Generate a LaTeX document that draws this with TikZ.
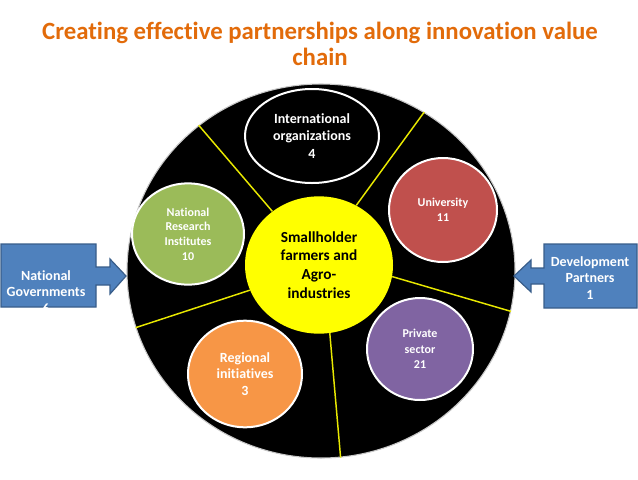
\documentclass[tikz,border=0pt]{standalone}
\usepackage{fontspec}
\setmainfont{Carlito}[Ligatures={NoCommon}]
\usetikzlibrary{shapes.geometric}
\definecolor{TitleOrange}{HTML}{E26B0A}
\definecolor{CalloutFill}{HTML}{4F81BD}
\definecolor{CalloutEdge}{HTML}{385D8A}
\definecolor{HubYellow}{HTML}{FFFF00}
\definecolor{SpokeYellow}{HTML}{E8E800}
\definecolor{UniRed}{HTML}{C0504D}
\definecolor{InstGreen}{HTML}{9BBB59}
\definecolor{PrivPurple}{HTML}{8064A2}
\definecolor{RegOrange}{HTML}{F79646}
\tikzset{
  diagram/.style={x=0.75pt,y=-0.75pt,font=\bfseries},
  ring/.style={ellipse,fill=black,draw=black!22,line width=0.8pt,inner sep=0pt},
  hub/.style={ellipse,fill=HubYellow,inner sep=0pt,align=center,
    font=\bfseries\fontsize{11.5}{14}\selectfont},
  member/.style={ellipse,draw=white,line width=1.5pt,inner sep=0pt,align=center,text=white},
  spoke/.style={draw=SpokeYellow,line width=1.1pt},
  callout/.style={fill=CalloutFill,draw=CalloutEdge,line width=0.9pt},
  callouttext/.style={text=white,align=center,font=\bfseries\fontsize{10.5}{12.5}\selectfont},
}

\begin{document}
\begin{tikzpicture}[diagram]
  \useasboundingbox (0,0) rectangle (638,479);

  \node[text=TitleOrange,align=center,font=\bfseries\fontsize{18.6}{20}\selectfont] (title) at (320,44)
    {Creating effective partnerships along innovation value\\chain};

  % the wheel
  \node[ring,minimum width=291pt,minimum height=280.5pt] (ring) at (321,271) {};
  \node[hub,minimum width=111pt,minimum height=103pt] (hub) at (319,265)
    {Smallholder\\farmers and\\Agro-\\industries};

  \node[member,fill=black,minimum width=100.5pt,minimum height=70.5pt,
    font=\bfseries\fontsize{10.5}{13}\selectfont] (intl) at (312,136)
    {International\\organizations\\4};
  \node[member,fill=UniRed,minimum width=81pt,minimum height=78pt,
    font=\bfseries\fontsize{9}{11.3}\selectfont] (uni) at (443,210)
    {University\\11};
  \node[member,fill=InstGreen,minimum width=84pt,minimum height=76pt,
    font=\bfseries\fontsize{9}{11}\selectfont] (nri) at (188,234)
    {National\\Research\\Institutes\\10};
  \node[member,fill=PrivPurple,minimum width=79.5pt,minimum height=76.5pt,
    font=\bfseries\fontsize{9}{11.6}\selectfont] (priv) at (420,349)
    {Private\\sector\\21};
  \node[member,fill=RegOrange,minimum width=85.5pt,minimum height=80pt,
    font=\bfseries\fontsize{10.5}{12.4}\selectfont] (reg) at (245,374)
    {Regional\\initiatives\\3};

  \draw[spoke] (hub.131) -- (ring.130);
  \draw[spoke] (hub.58) -- (ring.57);
  \draw[spoke] (hub.-9) -- (ring.-12);
  \draw[spoke] (hub.-81) -- (ring.-84);
  \draw[spoke] (hub.200) -- (ring.197);

  % side callouts
  \filldraw[callout] (1,244) -- (96,244) -- (96,267) -- (110,267) -- (110,259) -- (126,276)
    -- (110,294) -- (110,285) -- (96,285) -- (96,307) -- (1,307) -- cycle;
  \node[callouttext] (govt) at (46,292) {National\\Governments\\6};

  \filldraw[callout] (637,244) -- (544,244) -- (544,268) -- (531,268) -- (531,260) -- (514,276)
    -- (531,292) -- (531,284) -- (544,284) -- (544,308) -- (637,308) -- cycle;
  \node[callouttext] (partners) at (590,278) {Development\\Partners\\1};
\end{tikzpicture}
\end{document}
